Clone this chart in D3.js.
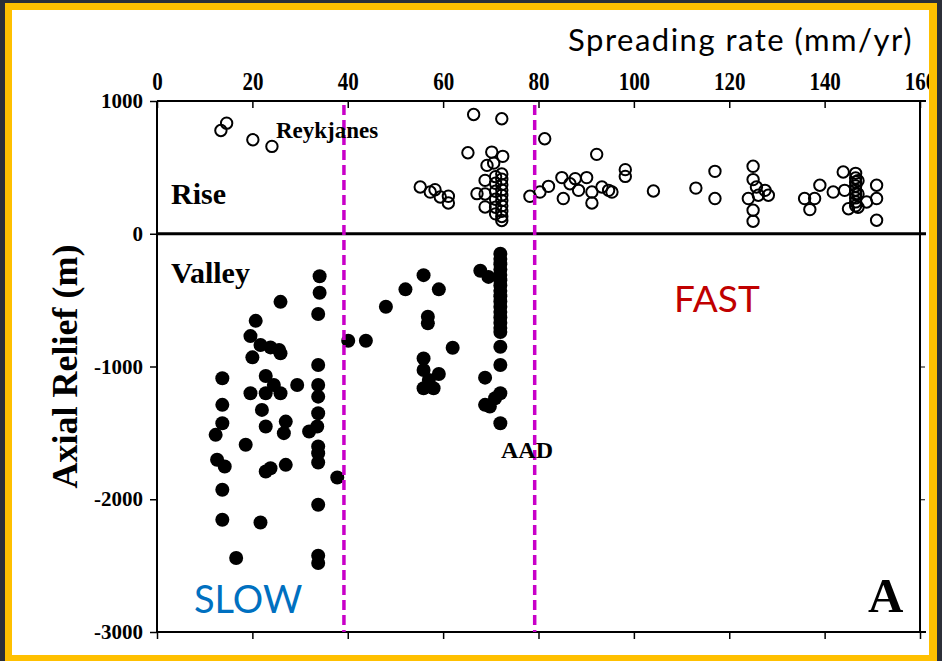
<!DOCTYPE html>
<html>
<head>
<meta charset="utf-8">
<script src="https://cdn.jsdelivr.net/npm/d3@7"></script>
<style>
  body { margin: 0; background: #2c2f38; }
  svg { display: block; }
</style>
</head>
<body>
<svg width="942" height="661"></svg>
<script>
// spreading rate (mm/yr) and axial relief (m)
var riseRate = [14.6, 13.4, 20.1, 24.1, 66.4, 72.3, 81.3, 65.2, 70.2, 72.5, 92.2, 69.2, 70.6, 98.2, 98.2,
    55.2, 57.3, 58.3, 59.4, 61.1, 61.1, 67.1, 68.8, 68.8, 68.8,
    72.3, 72.3, 72.3, 72.3, 72.3, 72.3, 72.3, 72.3, 72.3, 72.3,
    71.0, 71.0, 71.0, 71.0, 71.0, 71.0,
    78.2, 80.3, 82.1, 84.9, 85.2, 86.6, 87.7, 88.4, 90.1, 91.2, 91.2, 93.3, 94.7, 95.4, 104.1,
    113.0, 117.0, 117.0, 125.0, 125.0, 125.7, 124.0, 126.1, 128.2, 127.5, 125.0, 125.0,
    135.8, 136.9, 137.9, 139.0, 141.8, 143.9, 144.2, 145.0,
    146.5, 146.5, 146.5, 146.5, 146.5, 146.5, 146.5, 146.5, 146.5,
    147.0, 147.0, 147.0, 148.8, 150.9, 150.9, 150.9];
var riseRelief = [833, 778, 708, 658, 898, 866, 716, 610, 615, 583, 598, 515, 532, 483, 432,
    352, 314, 332, 277, 282, 232, 302, 402, 202, 300,
    450, 410, 370, 330, 290, 250, 210, 170, 130, 100,
    430, 380, 320, 260, 200, 150,
    282, 314, 357, 423, 265, 377, 415, 327, 423, 314, 232, 352, 327, 314, 322,
    344, 470, 265, 508, 408, 352, 265, 290, 290, 327, 177, 94,
    265, 182, 265, 365, 314, 465, 327, 188,
    455, 420, 390, 360, 330, 300, 270, 240, 210,
    400, 300, 200, 239, 365, 265, 102];

var valleyRate = [34.1, 34.1, 33.8, 25.9, 20.7, 19.6, 21.7, 23.8, 25.6, 25.9, 20.0, 33.8,
    13.7, 22.8, 29.4, 24.5, 19.6, 22.8, 25.9, 33.8, 33.8, 22.0, 13.7, 13.7, 12.3,
    22.8, 27.0, 33.6, 31.9, 33.8, 18.6, 33.8, 26.6, 12.6, 14.2, 33.8, 33.8,
    22.8, 23.8, 27.0, 37.8, 13.7, 13.7, 21.7, 33.8, 16.6, 33.8, 33.8,
    40.1, 43.8, 48.0, 52.1, 55.9, 59.1, 56.8, 56.8, 62.0, 55.9, 55.9, 59.1, 55.9, 58.0, 57.0,
    67.8, 69.5,
    72.0, 72.0, 72.0, 72.0, 72.0, 72.0, 72.0, 72.0, 72.0, 72.0, 72.0, 72.0, 72.0, 72.0, 72.0, 72.0,
    72.0, 72.0, 68.8, 72.0, 70.9, 68.8, 69.8, 72.0];
var valleyRelief = [-320, -445, -605, -513, -656, -771, -838, -856, -876, -901, -931, -989,
    -1089, -1071, -1139, -1139, -1202, -1202, -1202, -1139, -1227, -1327, -1289, -1427, -1515,
    -1452, -1415, -1452, -1490, -1352, -1590, -1603, -1502, -1703, -1753, -1653, -1723,
    -1791, -1766, -1741, -1836, -1929, -2154, -2175, -2041, -2442, -2425, -2480,
    -806, -806, -550, -419, -312, -419, -625, -675, -859, -939, -1026, -1056, -1164, -1164, -1101,
    -279, -325,
    -150, -190, -230, -270, -310, -350, -390, -430, -470, -510, -550, -590, -630, -670, -710, -740,
    -851, -989, -1084, -1202, -1239, -1289, -1302, -1427];

var xTicks = [0, 20, 40, 60, 80, 100, 120, 140, 160];
var yTicks = [1000, 0, -1000, -2000, -3000];
var dividers = [39.2, 79.2];   // slow / intermediate / fast boundaries as drawn

var svg = d3.select("svg");

// yellow frame and white slide area
svg.append("rect").attr("x", 5).attr("y", 3).attr("width", 932).attr("height", 662).attr("fill", "#ffc000");
svg.append("rect").attr("x", 12).attr("y", 10).attr("width", 917).attr("height", 645).attr("fill", "#fff");

svg.append("clipPath").attr("id", "inner")
    .append("rect").attr("x", 12).attr("y", 10).attr("width", 917).attr("height", 645);

var g = svg.append("g").attr("clip-path", "url(#inner)");

var x = d3.scaleLinear().domain([0, 160]).range([157, 920]);
var y = d3.scaleLinear().domain([-3000, 1000]).range([632, 101]);

var serif = "'Liberation Serif', 'Times New Roman', serif";
var sans = "Lato, 'Open Sans', sans-serif";
var plain = function(d) { return String(d); };   // keeps ascii hyphen for negatives

g.append("text")
    .attr("x", 913).attr("y", 51)
    .attr("text-anchor", "end")
    .style("font-family", sans).style("font-size", "31px")
    .style("letter-spacing", "1.5px")
    .attr("fill", "#000")
    .text("Spreading rate (mm/yr)");

// top axis with labels, ticks pointing into the plot
var xAxisTop = g.append("g").attr("transform", "translate(0," + y(1000) + ")")
    .call(d3.axisTop(x).tickValues(xTicks).tickSize(-7).tickPadding(10).tickFormat(plain));
xAxisTop.select(".domain").remove();
xAxisTop.selectAll("line").attr("stroke", "#000").attr("stroke-width", 1.5);
xAxisTop.selectAll("text")
    .style("font-family", serif).style("font-size", "21px").style("font-weight", "bold")
    .attr("fill", "#000")
    .attr("transform", "scale(1,1.15)");

// bottom axis, ticks only
var xAxisBottom = g.append("g").attr("transform", "translate(0," + y(-3000) + ")")
    .call(d3.axisBottom(x).tickValues(xTicks).tickSize(7).tickFormat(""));
xAxisBottom.select(".domain").remove();
xAxisBottom.selectAll("line").attr("stroke", "#000").attr("stroke-width", 1.5);

// left axis
var yAxisLeft = g.append("g").attr("transform", "translate(" + x(0) + ",0)")
    .call(d3.axisLeft(y).tickValues(yTicks).tickSize(7).tickPadding(7).tickFormat(plain));
yAxisLeft.select(".domain").remove();
yAxisLeft.selectAll("line").attr("stroke", "#000").attr("stroke-width", 1.5);
yAxisLeft.selectAll("text")
    .style("font-family", serif).style("font-size", "21px").style("font-weight", "bold")
    .attr("fill", "#000");

var yAxisRight = g.append("g").attr("transform", "translate(" + x(160) + ",0)")
    .call(d3.axisRight(y).tickValues(yTicks).tickSize(5).tickFormat(""));
yAxisRight.select(".domain").remove();
yAxisRight.selectAll("line").attr("stroke", "#000").attr("stroke-width", 1);

// plot frame
g.append("line").attr("x1", x(0)).attr("x2", x(160) + 6).attr("y1", y(1000)).attr("y2", y(1000))
    .attr("stroke", "#000").attr("stroke-width", 2);
g.append("line").attr("x1", x(0)).attr("x2", x(160) + 6).attr("y1", y(-3000)).attr("y2", y(-3000))
    .attr("stroke", "#000").attr("stroke-width", 2);
g.append("line").attr("x1", x(0)).attr("x2", x(0)).attr("y1", y(1000)).attr("y2", y(-3000))
    .attr("stroke", "#000").attr("stroke-width", 2);
g.append("line").attr("x1", x(160)).attr("x2", x(160)).attr("y1", y(1000)).attr("y2", y(-3000))
    .attr("stroke", "#000").attr("stroke-width", 2);
// zero line, heavier
g.append("line").attr("x1", x(0)).attr("x2", x(160) + 6).attr("y1", y(0)).attr("y2", y(0))
    .attr("stroke", "#000").attr("stroke-width", 3);

g.append("text")
    .attr("transform", "translate(77," + y(-1000) + ") rotate(-90)")
    .attr("text-anchor", "middle")
    .style("font-family", serif).style("font-size", "36px").style("font-weight", "bold")
    .attr("fill", "#000")
    .text("Axial Relief (m)");

// open circles: rises
g.selectAll(".rise")
    .data(d3.range(riseRate.length))
    .enter().append("circle")
    .attr("class", "rise")
    .attr("cx", function(i) { return x(riseRate[i]); })
    .attr("cy", function(i) { return y(riseRelief[i]); })
    .attr("r", 5.7)
    .attr("fill", "none")
    .attr("stroke", "#000")
    .attr("stroke-width", 2);

// filled circles: valleys
g.selectAll(".valley")
    .data(d3.range(valleyRate.length))
    .enter().append("circle")
    .attr("class", "valley")
    .attr("cx", function(i) { return x(valleyRate[i]); })
    .attr("cy", function(i) { return y(valleyRelief[i]); })
    .attr("r", 7)
    .attr("fill", "#000");

// slow/fast dividers
g.selectAll(".divider")
    .data(dividers)
    .enter().append("line")
    .attr("class", "divider")
    .attr("x1", function(d) { return x(d); })
    .attr("x2", function(d) { return x(d); })
    .attr("y1", y(1000) + 4)
    .attr("y2", y(-3000))
    .attr("stroke", "#c800c8")
    .attr("stroke-width", 3.5)
    .attr("stroke-dasharray", "10,5");

// labels inside the plot
function serifLabel(txt, px, py, size) {
    g.append("text").attr("x", px).attr("y", py)
        .style("font-family", serif).style("font-size", size + "px").style("font-weight", "bold")
        .attr("fill", "#000")
        .text(txt);
}
serifLabel("Reykjanes", 276, 138, 23);
serifLabel("Rise", 171, 204, 30);
serifLabel("Valley", 171, 283, 30);
serifLabel("AAD", 501, 458, 24);
serifLabel("A", 868, 612, 49);

g.append("text").attr("x", 194).attr("y", 613)
    .style("font-family", sans).style("font-size", "38px")
    .attr("fill", "#0070c0")
    .text("SLOW");
g.append("text").attr("x", 674).attr("y", 312)
    .style("font-family", sans).style("font-size", "37px")
    .attr("fill", "#c00000")
    .text("FAST");
</script>
</body>
</html>
